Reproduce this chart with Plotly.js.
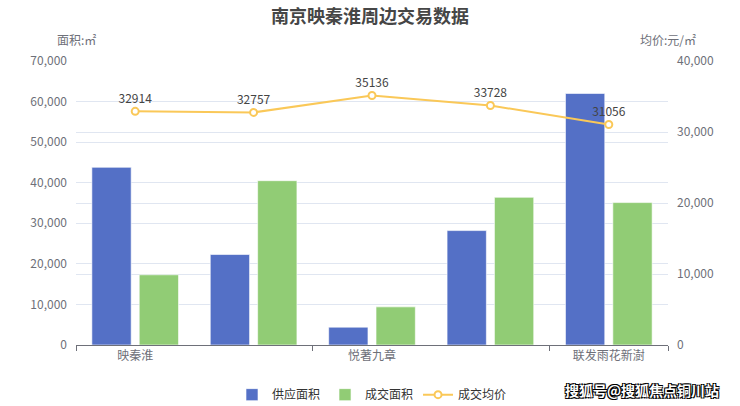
<!DOCTYPE html>
<html>
<head>
<meta charset="utf-8">
<script src="https://cdn.plot.ly/plotly-3.0.1.min.js"></script>
<style>html,body{margin:0;padding:0;background:#fff;}#chart{width:740px;height:406px;}</style>
</head>
<body>
<div id="chart"></div>
<script>
// Data
const categories = ["映秦淮", "楼盘二", "悦著九章", "楼盘四", "联发雨花新澍"];
const labelledCategories = ["映秦淮", "悦著九章", "联发雨花新澍"];
const supplyArea = [43800, 22300, 4400, 28200, 62000];
const dealArea = [17300, 40500, 9400, 36400, 35100];
const avgPrice = [32914, 32757, 35136, 33728, 31056];
const boundaryTicks = [-0.5, 1.5, 3.5, 4.5];
const leftTicks = [0, 10000, 20000, 30000, 40000, 50000, 60000, 70000];
const rightTicks = [0, 10000, 20000, 30000, 40000];

const axisGray = '#6e7079';
const gridColor = '#e0e6f1';
const FONT = '"Noto Sans CJK SC", "Noto Sans", sans-serif';

const traces = [
  {
    type: 'bar', name: '供应面积', x: categories, y: supplyArea,
    marker: {color: '#5470c6', line: {color: 'rgba(255,255,255,0.6)', width: 1}},
    hoverinfo: 'skip'
  },
  {
    type: 'bar', name: '成交面积', x: categories, y: dealArea,
    marker: {color: '#91cc75', line: {color: 'rgba(255,255,255,0.6)', width: 1}},
    hoverinfo: 'skip'
  },
  {
    type: 'scatter', mode: 'lines+markers+text', name: '成交均价',
    x: categories, y: avgPrice, yaxis: 'y2',
    text: avgPrice.map(String), textposition: 'top center',
    textfont: {color: '#444444', size: 12, family: FONT},
    line: {color: '#fac858', width: 2},
    marker: {symbol: 'circle', size: 7, color: '#ffffff', line: {color: '#fac858', width: 2}},
    cliponaxis: false,
    hoverinfo: 'skip'
  },
  {
    type: 'scatter', mode: 'markers', x: [boundaryTicks[0]], y: [0],
    xaxis: 'x2', yaxis: 'y', showlegend: false, hoverinfo: 'skip',
    marker: {opacity: 0}
  }
];

const layout = {
  width: 740, height: 406,
  margin: {l: 76, r: 72, t: 61, b: 61},
  paper_bgcolor: '#ffffff', plot_bgcolor: '#ffffff',
  font: {family: FONT, color: axisGray, size: 12},
  title: {
    text: '<b>南京映秦淮周边交易数据</b>',
    font: {size: 18, color: '#464646', family: FONT},
    x: 0.5, xanchor: 'center', yref: 'container', y: 0.96, yanchor: 'middle'
  },
  barmode: 'group', bargap: 0.2, bargroupgap: 0.17,
  xaxis: {
    type: 'category', range: [-0.5, 4.5],
    tickmode: 'array', tickvals: labelledCategories, ticktext: labelledCategories,
    ticks: '', showgrid: false, zeroline: false,
    showline: true, linecolor: axisGray, linewidth: 1,
    tickfont: {color: axisGray, size: 12}, fixedrange: true
  },
  xaxis2: {
    overlaying: 'x', anchor: 'y', side: 'bottom', range: [-0.5, 4.5],
    tickmode: 'array', tickvals: boundaryTicks, showticklabels: false,
    ticks: 'outside', ticklen: 5, tickcolor: axisGray, tickwidth: 1,
    showgrid: false, zeroline: false, showline: false
  },
  yaxis: {
    range: [0, 70000], tickmode: 'array', tickvals: leftTicks, tickformat: ',d',
    showgrid: true, gridcolor: gridColor, gridwidth: 1, zeroline: false,
    showline: false, ticks: '', ticklabelstandoff: 8,
    tickfont: {color: axisGray, size: 12}
  },
  yaxis2: {
    overlaying: 'y', side: 'right', range: [0, 40000],
    tickmode: 'array', tickvals: rightTicks, tickformat: ',d',
    showgrid: true, gridcolor: gridColor, gridwidth: 1, zeroline: false,
    showline: false, ticks: '', ticklabelstandoff: 8,
    tickfont: {color: axisGray, size: 12}
  },
  showlegend: true,
  legend: {
    orientation: 'h', x: 0.5, xanchor: 'center', yref: 'container', y: 0.028, yanchor: 'middle',
    font: {color: '#333333', size: 12, family: FONT},
    itemwidth: 30, traceorder: 'normal'
  },
  annotations: [
    {xref: 'x domain', yref: 'paper', x: 0, y: 1, yshift: 11, xanchor: 'center', yanchor: 'bottom',
     text: '面积:㎡', showarrow: false, font: {color: axisGray, size: 12}},
    {xref: 'x domain', yref: 'paper', x: 1, y: 1, yshift: 11, xanchor: 'center', yanchor: 'bottom',
     text: '均价:元/㎡', showarrow: false, font: {color: axisGray, size: 12}},
    {xref: 'paper', yref: 'paper', x: 1.09, y: -0.16, xanchor: 'right', yanchor: 'middle',
     text: '<b>搜狐号@搜狐焦点铜川站</b>', showarrow: false,
     font: {color: '#ffffff', size: 14, family: FONT,
            shadow: '-1px -1px 0 #000, 1px -1px 0 #000, -1px 1px 0 #000, 1px 1px 0 #000'}}
  ]
};

Plotly.newPlot('chart', traces, layout, {displayModeBar: false, staticPlot: true});
</script>
</body>
</html>
